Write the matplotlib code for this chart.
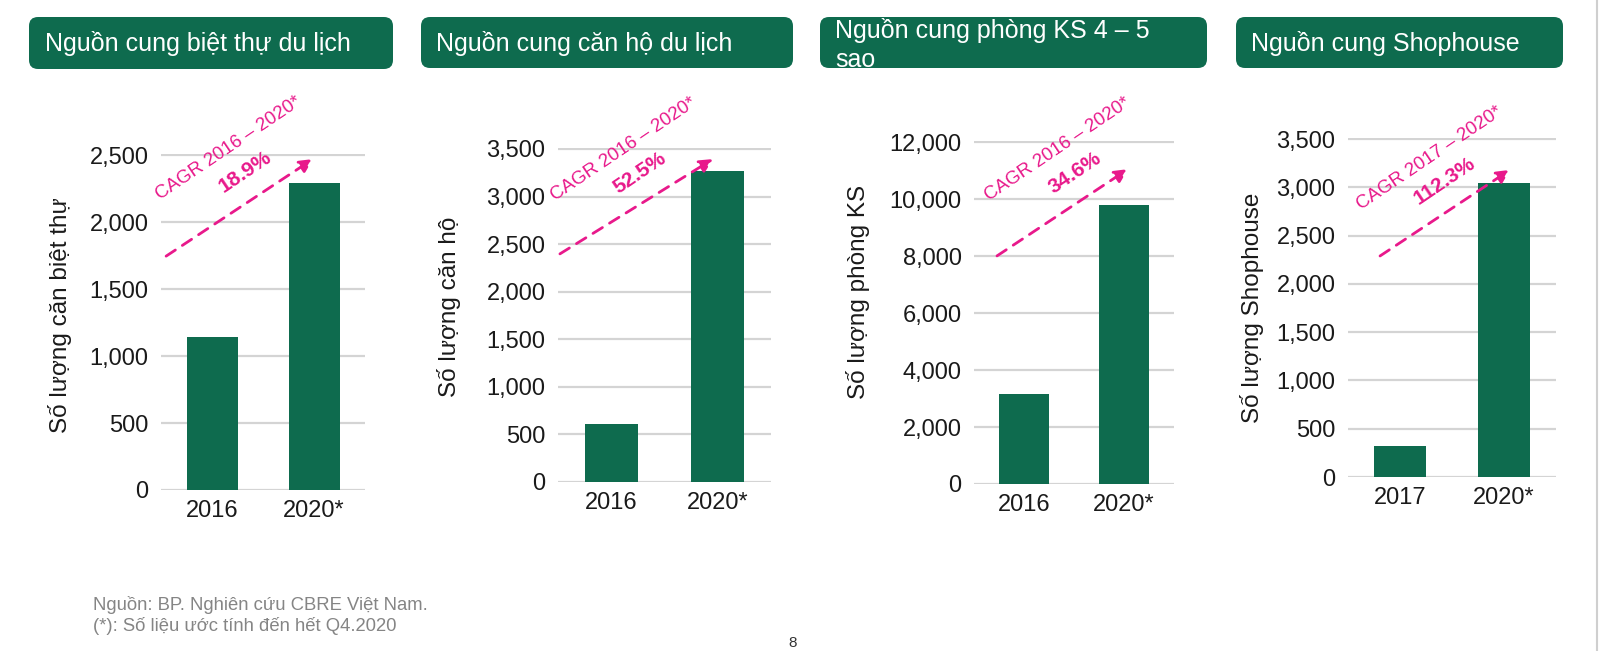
import matplotlib.pyplot as plt
from matplotlib.patches import FancyBboxPatch
from matplotlib.lines import Line2D

plt.rcParams['font.family'] = ['Liberation Sans', 'DejaVu Sans']

# du lieu
titles = ['Nguồn cung biệt thự du lịch', 'Nguồn cung căn hộ du lịch',
          'Nguồn cung phòng KS 4 – 5\nsao', 'Nguồn cung Shophouse']
ylabels = ['Số lượng căn biệt thự', 'Số lượng căn hộ', 'Số lượng phòng KS', 'Số lượng Shophouse']
years = [['2016', '2020*'], ['2016', '2020*'], ['2016', '2020*'], ['2017', '2020*']]
villa = [1140, 2290]
condotel = [605, 3270]
hotel_rooms = [3150, 9800]
shophouse = [320, 3040]
values = [villa, condotel, hotel_rooms, shophouse]
cagr_period = ['CAGR 2016 – 2020*', 'CAGR 2016 – 2020*', 'CAGR 2016 – 2020*', 'CAGR 2017 – 2020*']
cagr_value = ['18.9%', '52.5%', '34.6%', '112.3%']
ymax = [2500, 3500, 12000, 3500]
ystep = [500, 500, 2000, 500]
source_note = ['Nguồn: BP. Nghiên cứu CBRE Việt Nam.', '(*): Số liệu ước tính đến hết Q4.2020']

GREEN = '#0e6b4e'
PINK = '#e8198b'
W, H = 1600, 651

fig = plt.figure(figsize=(W / 100, H / 100), dpi=100)

def px_rect(x0, y0, x1, y1):
    return [x0 / W, 1 - y1 / H, (x1 - x0) / W, (y1 - y0) / H]

# vi tri (pixel) cua tung khung
axes_px = [(161, 154, 365, 490), (558, 148, 771, 482), (974, 141, 1174, 484), (1348, 138, 1556, 477)]
title_px = [(29, 17, 393, 69), (421, 17, 793, 68), (820, 17, 1207, 68), (1236, 17, 1563, 68)]
title_text_x = [45, 436, 835, 1251]
title_text_y = [43, 43, 45, 43]
ylabel_px = [(60, 315), (449, 307), (858, 292), (1252, 308)]
arrow_ax = [((0.025, 0.696), (0.745, 0.985)), ((0.009, 0.683), (0.728, 0.967)),
            ((0.115, 0.665), (0.77, 0.918)), ((0.154, 0.652), (0.779, 0.906))]
period_ax = [(0.33, 1.018), (0.31, 0.996), (0.42, 0.977), (0.394, 0.941)]
value_ax = [(0.41, 0.946), (0.385, 0.925), (0.505, 0.907), (0.466, 0.873)]

for i in range(4):
    # hop tieu de bo goc
    x0, y0, x1, y1 = title_px[i]
    box = FancyBboxPatch((x0 / 100, (H - y1) / 100), (x1 - x0) / 100, (y1 - y0) / 100,
                         boxstyle='round,pad=0,rounding_size=0.09', transform=fig.dpi_scale_trans,
                         facecolor=GREEN, edgecolor='none')
    fig.patches.append(box)
    fig.text(title_text_x[i] / W, 1 - title_text_y[i] / H, titles[i], color='white', fontsize=18,
             ha='left', va='center', linespacing=1.25)

    ax = fig.add_axes(px_rect(*axes_px[i]))
    ax.bar([0, 1], values[i], width=0.5, color=GREEN, zorder=3)
    ax.set_xlim(-0.5, 1.5)
    ax.set_ylim(0, ymax[i] * 1.003)
    ticks = list(range(0, ymax[i] + 1, ystep[i]))
    ax.set_yticks(ticks)
    ax.set_yticklabels([f'{t:,}' for t in ticks])
    ax.set_xticks([0, 1])
    ax.set_xticklabels(years[i])
    ax.tick_params(axis='both', length=0, labelsize=17, colors='#1a1a1a')
    ax.tick_params(axis='y', pad=9)
    ax.tick_params(axis='x', pad=7)
    ax.grid(axis='y', color='#d4d4d4', lw=1.6, zorder=0)
    for s in ax.spines.values():
        s.set_visible(False)

    lx, ly = ylabel_px[i]
    fig.text(lx / W, 1 - ly / H, ylabels[i], rotation=90, fontsize=17.5,
             color='#1a1a1a', ha='center', va='center')

    # mui ten CAGR
    (sx, sy), (ex, ey) = arrow_ax[i]
    ax.annotate('', xy=(ex, ey), xytext=(sx, sy), xycoords='axes fraction',
                arrowprops=dict(arrowstyle='-|>', linestyle=(0, (4, 3)), color=PINK,
                                lw=2, mutation_scale=20, shrinkA=0, shrinkB=0),
                annotation_clip=False, zorder=5)
    ax.text(*period_ax[i], cagr_period[i], transform=ax.transAxes, rotation=34,
            color=PINK, fontsize=13.5, ha='center', va='center', rotation_mode='anchor', zorder=6)
    ax.text(*value_ax[i], cagr_value[i], transform=ax.transAxes, rotation=34,
            color=PINK, fontsize=15, fontweight='bold', ha='center', va='center',
            rotation_mode='anchor', zorder=6)

# ghi chu nguon
fig.text(93 / W, 1 - 605 / H, source_note[0], fontsize=13.3, color='#858585', ha='left', va='center')
fig.text(93 / W, 1 - 626 / H, source_note[1], fontsize=13.3, color='#858585', ha='left', va='center')
fig.text(793 / W, 1 / H, '8', fontsize=11, color='#333333', ha='center', va='bottom')
fig.lines.append(Line2D([1597 / W, 1597 / W], [0, 1], transform=fig.transFigure, color='#cfcfcf', lw=1.5))

fig.savefig('out.png', dpi=100)
